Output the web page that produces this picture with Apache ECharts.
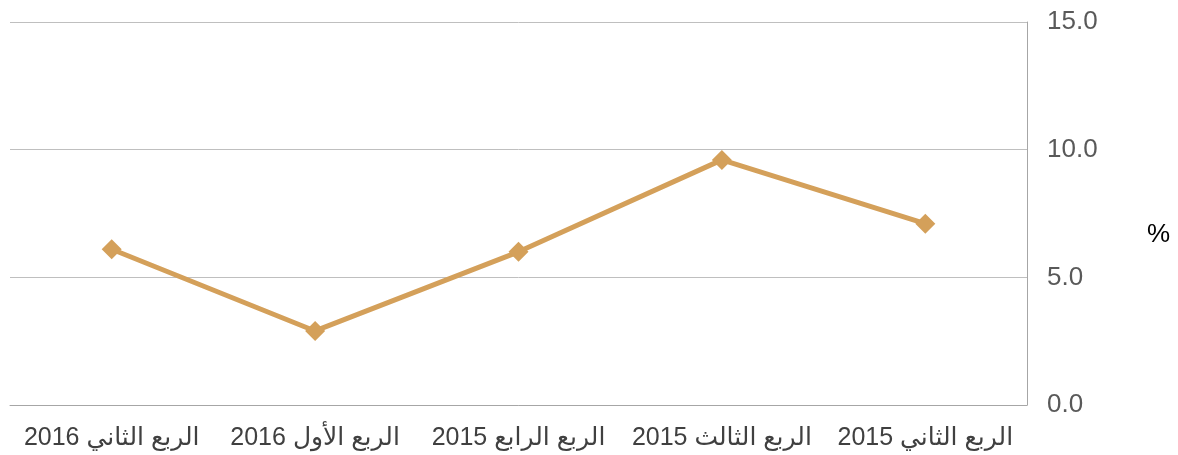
<!DOCTYPE html>
<html>
<head>
<meta charset="utf-8">
<script src="https://cdn.jsdelivr.net/npm/echarts@6/dist/echarts.min.js"></script>
<style>
  html, body { margin: 0; padding: 0; background: #fff; }
  #chart { width: 1178px; height: 455px; }
</style>
</head>
<body>
<div id="chart"></div>
<script>
// quarters, first item drawn on the right (axis is inverted)
const quarters = ["الربع الثاني 2015", "الربع الثالث 2015", "الربع الرابع 2015", "الربع الأول 2016", "الربع الثاني 2016"];
const values = [7.1, 9.6, 6.0, 2.9, 6.1];
const yTicks = [0, 5, 10, 15];
const unitLabel = "%";

const chart = echarts.init(document.getElementById("chart"), null, { renderer: "canvas" });
chart.setOption({
    animation: false,
    grid: { left: 10, right: 151, top: 22, bottom: 50 },
    graphic: [
        {
            type: "text",
            left: 1147,
            top: 222,
            style: {
                text: unitLabel,
                fill: "#000",
                fontSize: 26,
                fontFamily: "Liberation Sans, Arial",
            },
        },
    ],
    xAxis: {
        type: "category",
        data: quarters,
        inverse: true,
        boundaryGap: true,
        axisLine: { lineStyle: { color: "#a6a6a6", width: 1 } },
        axisTick: { show: false },
        axisLabel: {
            interval: 0,
            color: "#404040",
            fontSize: 25,
            margin: 21,
            fontFamily: "Liberation Sans, DejaVu Sans, sans-serif",
        },
    },
    yAxis: {
        type: "value",
        position: "right",
        min: yTicks[0],
        max: yTicks[yTicks.length - 1],
        interval: 5,
        axisLine: { show: true, lineStyle: { color: "#a6a6a6", width: 1 } },
        axisTick: { show: false },
        splitLine: { lineStyle: { color: "#bfbfbf", width: 1 } },
        axisLabel: {
            color: "#595959",
            fontSize: 26,
            margin: 20,
            fontFamily: "Liberation Sans, Arial",
            formatter: v => v.toFixed(1),
        },
    },
    series: [
        {
            type: "line",
            data: values,
            symbol: "diamond",
            symbolSize: 20,
            lineStyle: { color: "#d4a05a", width: 5 },
            itemStyle: { color: "#d4a05a" },
        },
    ],
});
</script>
</body>
</html>
